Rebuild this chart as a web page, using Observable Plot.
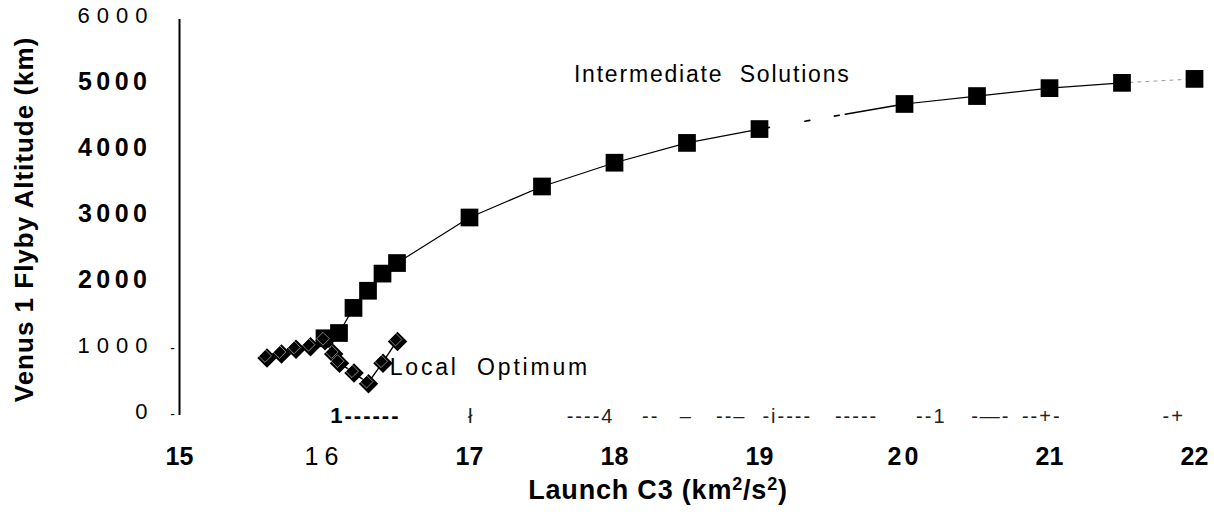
<!DOCTYPE html>
<html>
<head>
<meta charset="utf-8">
<script src="https://cdn.jsdelivr.net/npm/d3@7"></script>
<script src="https://cdn.jsdelivr.net/npm/@observablehq/plot@0.6"></script>
<style>
  body { margin: 0; background: #fff; }
  svg { font-family: "Liberation Sans", Arial, sans-serif; }
</style>
</head>
<body>
<div id="chart"></div>
<script>
// ---- data ----
const intermediateX = [16.0, 16.1, 16.2, 16.3, 16.4, 16.5, 17.0, 17.5, 18.0, 18.5, 19.0, 20.0, 20.5, 21.0, 21.5, 22.0];
const intermediateY = [1170, 1250, 1630, 1890, 2150, 2310, 3000, 3470, 3830, 4130, 4340, 4720, 4840, 4960, 5040, 5100];
const localX = [15.6, 15.7, 15.8, 15.9, 16.0, 16.06, 16.1, 16.2, 16.3, 16.4, 16.5];
const localY = [880, 940, 1010, 1050, 1140, 940, 800, 650, 490, 800, 1130];

const xTicks = [15, 16, 17, 18, 19, 20, 21, 22];
const yTicks = [0, 1000, 2000, 3000, 4000, 5000, 6000];
const xTitleParts = ["Launch C3 (km", "2", "/s", "2", ")"];
const yTitle = "Venus 1 Flyby Altitude (km)";
const labelText = ["Intermediate  Solutions", "Local  Optimum"];
const labelX = [17.72, 16.45];
const labelY = [5170, 730];
// scanned axis-line fragments (as printed in the reference)
const axisText = ["1------", "ł", "----4", "--", "–", "--–", "-i----", "-----", "--1", "-—-", "--+-", "-+"];
const axisX = [16.04, 16.99, 17.67, 18.19, 18.45, 18.70, 19.02, 19.52, 20.08, 20.46, 20.81, 21.78];

// ---- styling config (not data) ----
const boldX = new Set([15, 17, 18, 19, 20, 21, 22]);
const boldY = new Set([2000, 3000, 4000, 5000]);

const squares = intermediateX.map((x, i) => ({x, y: intermediateY[i]}));
const diamonds = localX.map((x, i) => ({x, y: localY[i]}));
const labels = labelText.map((t, i) => ({t, x: labelX[i], y: labelY[i]}));
const frags = axisText.map((t, i) => ({t, x: axisX[i]}));

// line pieces (scanned line is broken in places)
const solidA = squares.filter(d => d.x <= 19);
const brokenB = squares.filter(d => d.x >= 19 && d.x <= 20);
const solidC = squares.filter(d => d.x >= 20 && d.x <= 21.5);
const faintD = squares.filter(d => d.x >= 21.5);

const chart = Plot.plot({
  width: 1214,
  height: 517,
  marginLeft: 179,
  marginRight: 20,
  marginTop: 19,
  marginBottom: 102,
  x: {domain: [15, 22], axis: null},
  y: {domain: [0, 6000], axis: null},
  style: {background: "white", fontFamily: "'Liberation Sans', Arial, sans-serif", color: "black", overflow: "visible"},
  marks: [
    // y axis line
    Plot.ruleX([15], {y1: 0, y2: 6000, stroke: "black", strokeWidth: 2}),
    // small tick dashes
    Plot.text([0, 1000], {x: 15, y: d => d, text: () => "-", dx: -6, dy: -1, fontSize: 14}),
    // y tick labels
    Plot.text(yTicks.filter(d => boldY.has(d)), {x: 15, y: d => d, text: d => String(d), textAnchor: "end", dx: -28, dy: -4, fontSize: 25, fontWeight: "bold"}),
    Plot.text(yTicks.filter(d => !boldY.has(d)), {x: 15, y: d => d, text: d => String(d), textAnchor: "end", dx: -25, dy: -4, fontSize: 22}),
    // x tick labels
    Plot.text(xTicks.filter(d => boldX.has(d)), {x: d => d, y: 0, text: d => String(d), dy: 41, fontSize: 25, fontWeight: "bold"}),
    Plot.text(xTicks.filter(d => !boldX.has(d)), {x: d => d, y: 0, text: d => String(d), dy: 41, fontSize: 25}),
    // scanned axis fragments
    Plot.text(frags.slice(0, 1), {x: "x", y: 0, text: "t", textAnchor: "start", dy: 0, fontSize: 22, fontWeight: "bold"}),
    Plot.text(frags.slice(1), {x: "x", y: 0, text: "t", textAnchor: "start", dy: 1, fontSize: 20, fill: "#222"}),
    // series lines
    Plot.line(solidA, {x: "x", y: "y", stroke: "black", strokeWidth: 1.2}),
    Plot.line(brokenB, {x: "x", y: "y", stroke: "black", strokeWidth: 1.6, strokeDasharray: "10,36,5,25,5,6,300"}),
    Plot.line(solidC, {x: "x", y: "y", stroke: "black", strokeWidth: 1.2}),
    Plot.line(faintD, {x: "x", y: "y", stroke: "#999", strokeWidth: 1, strokeDasharray: "3,5"}),
    Plot.line(diamonds, {x: "x", y: "y", stroke: "black", strokeWidth: 1.4}),
    // markers
    Plot.dot(squares, {x: "x", y: "y", symbol: "square", r: 10, fill: "black"}),
    Plot.dot(diamonds, {x: "x", y: "y", symbol: "diamond2", r: 8.8, fill: "black", dx: 0.5, dy: 0.5}),
    Plot.dot(diamonds, {x: "x", y: "y", symbol: "diamond2", r: 5.8, fill: "none", stroke: "white", strokeWidth: 0.6, strokeOpacity: 0.85, dx: -1.5, dy: -1.5}),
    // annotations
    Plot.text(labels, {x: "x", y: "y", text: "t", textAnchor: "start", fontSize: 23, fill: "black"}),
    // axis titles
    Plot.text([xTitleParts.join("")], {frameAnchor: "bottom", dx: -29, dy: 83, fontSize: 27, fontWeight: "bold"}),
    Plot.text([yTitle], {x: 15 - 155 / 145, y: 2970, rotate: -90, fontSize: 26, fontWeight: "bold"})
  ]
});

// letter spacing to mimic the scanned glyph spacing; superscripts for the x title
d3.select(chart).selectAll("text").each(function() {
  const s = this.textContent;
  const el = d3.select(this);
  if (["6000", "1000", "0"].includes(s)) el.attr("letter-spacing", "7px");
  else if (["2000", "3000", "4000", "5000"].includes(s)) el.attr("letter-spacing", "4.5px");
  else if (s === "16") el.attr("letter-spacing", "6px");
  else if (s === "20") el.attr("letter-spacing", "3px");
  else if (s === "Intermediate  Solutions") el.attr("letter-spacing", "1.8px");
  else if (s === "Local  Optimum") el.attr("letter-spacing", "2.8px");
  else if (s === yTitle) el.attr("letter-spacing", "1px");
  else if (s === xTitleParts.join("")) {
    el.text(null).attr("letter-spacing", "0.8px");
    xTitleParts.forEach((p, i) => {
      const sup = i === 1 || i === 3;
      el.append("tspan").text(p)
        .attr("font-size", sup ? 18 : null)
        .attr("dy", sup ? -9 : (i > 0 ? 9 : null));
    });
  }
  else if (/^[-–—+ł1i4]+$/.test(s)) el.attr("letter-spacing", "2px");
});

document.getElementById("chart").appendChild(chart);
</script>
</body>
</html>
